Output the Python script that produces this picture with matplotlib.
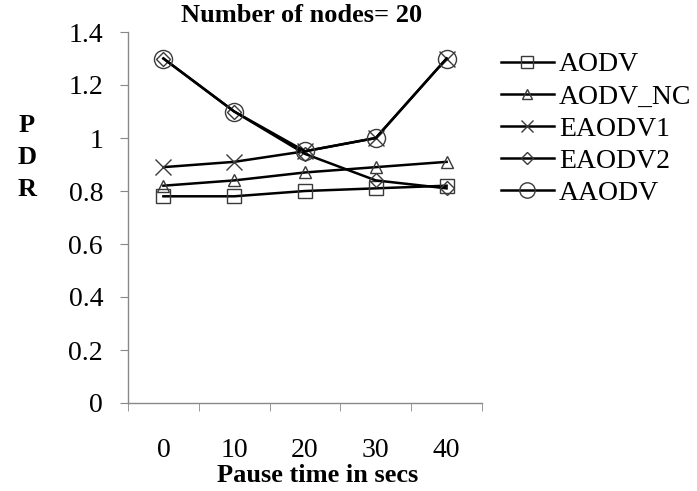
import matplotlib
matplotlib.use('Agg')
import matplotlib.pyplot as plt
import numpy as np

plt.rcParams['font.family'] = ['Liberation Serif', 'DejaVu Serif']

# data
pause_times = ['0', '10', '20', '30', '40']
aodv = [0.78, 0.78, 0.80, 0.81, 0.82]
aodv_nc = [0.82, 0.84, 0.87, 0.89, 0.91]
eaodv1 = [0.89, 0.91, 0.95, 1.00, 1.30]
eaodv2 = [1.30, 1.10, 0.94, 0.84, 0.81]
aaodv = [1.30, 1.10, 0.95, 1.00, 1.30]

series = [
    ('AODV', aodv, 's', 10),
    ('AODV_NC', aodv_nc, '^', 9),
    ('EAODV1', eaodv1, 'x', 11),
    ('EAODV2', eaodv2, 'D', 7),
    ('AAODV', aaodv, 'o', 13),
]

fig = plt.figure(figsize=(6.97, 4.91), dpi=100)
ax = fig.add_axes([128/697, 1-403/491, (482-128)/697, (403-32)/491])

x = np.arange(len(pause_times)) + 0.5
for name, vals, mk, ms in series:
    ax.plot(x, vals, color='black', linewidth=1.8, marker=mk, markersize=ms,
            markerfacecolor='none', markeredgecolor='#3a3a3a',
            markeredgewidth=1.0, label=name)

ax.set_xlim(0, len(pause_times))
ax.set_ylim(0, 1.4)
ax.set_yticks(np.arange(0, 1.41, 0.2))
ax.set_yticklabels(['0', '0.2', '0.4', '0.6', '0.8', '1', '1.2', '1.4'])
ax.set_xticks(x)
ax.set_xticklabels(pause_times)
ax.set_xticks(np.arange(0, len(pause_times) + 1), minor=True)
ax.tick_params(axis='x', which='major', length=0, pad=25, labelsize=20)
ax.tick_params(axis='x', which='minor', length=6, direction='out', color='#888888')
ax.tick_params(axis='y', length=6, direction='out', color='#888888', pad=12, labelsize=20)

for s in ['top', 'right']:
    ax.spines[s].set_visible(False)
for s in ['left', 'bottom']:
    ax.spines[s].set_color('#888888')
    ax.spines[s].set_linewidth(1.0)

fig.text(318/697, 1-475/491, 'Pause time in secs', fontsize=19, fontweight='bold',
         ha='center', va='center')
fig.text(302/697, 1-15/491, 'Number of nodes= 20', fontsize=19, fontweight='bold',
         ha='center', va='center')
fig.text(27/697, 1-157/491, 'P\nD\nR', fontsize=19, fontweight='bold',
         ha='center', va='center', linespacing=1.5)

ax.legend(loc='upper left', bbox_to_anchor=(501/697, 1-52/491),
          bbox_transform=fig.transFigure, frameon=False, fontsize=20,
          handlelength=1.9, handletextpad=0.18, labelspacing=0.24,
          borderpad=0, borderaxespad=0, markerscale=0.85)

fig.savefig('out.png', dpi=100)
